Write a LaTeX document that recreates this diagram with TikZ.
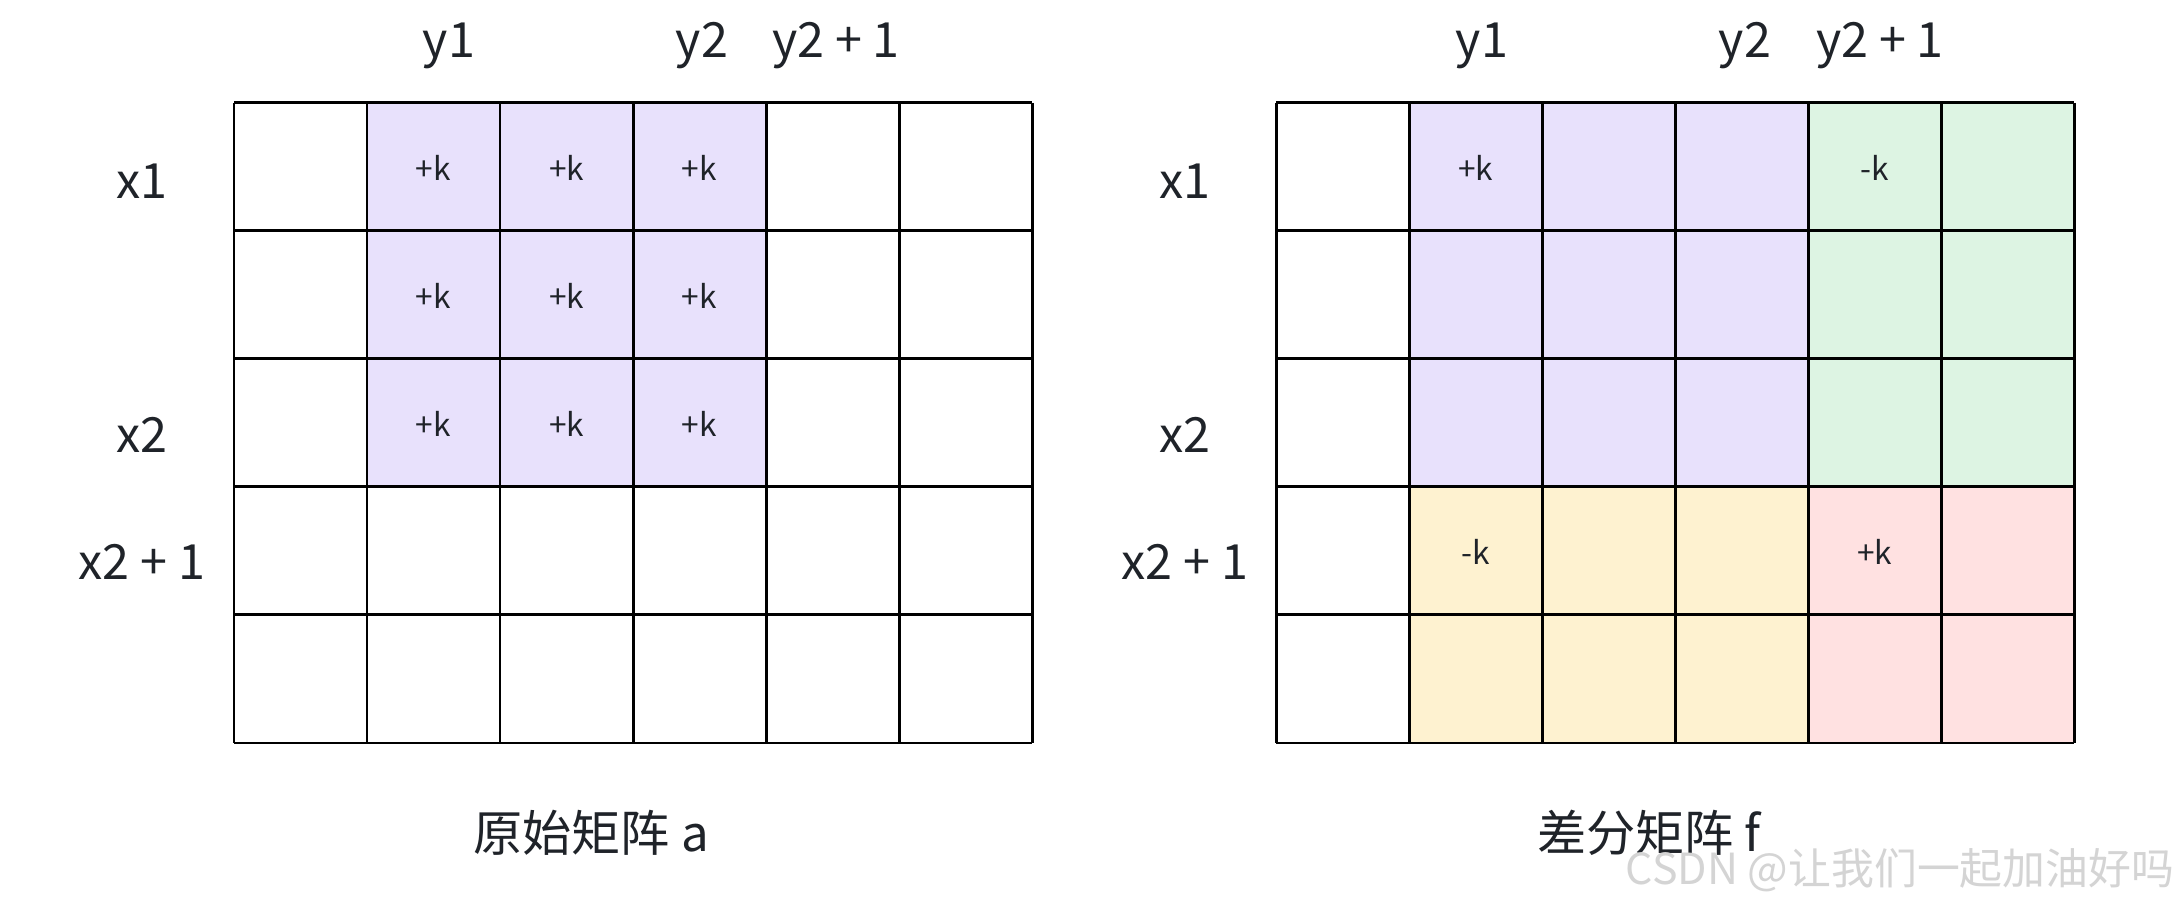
\documentclass[tikz,border=0pt]{standalone}
\usepackage{fontspec}
\setmainfont{Noto Sans CJK SC}
\usepackage{xcolor}
\usepackage{tikz}
\usetikzlibrary{positioning}

\definecolor{cellpurple}{HTML}{E8E1FC}
\definecolor{cellgreen}{HTML}{DDF4E3}
\definecolor{cellyellow}{HTML}{FEF2D0}
\definecolor{cellpink}{HTML}{FFE1E1}
\definecolor{inkdark}{HTML}{1F2329}
\definecolor{markgray}{HTML}{D4D4D4}

\begin{document}
\begin{tikzpicture}[
    x=0.1mm, y=-0.1mm,
    gridline/.style={draw=black, line width=0.85pt},
    axislabel/.style={anchor=base, text=inkdark, font=\fontsize{13.8}{17}\selectfont},
    celltext/.style={anchor=base, text=inkdark, font=\fontsize{9}{11}\selectfont},
    caption/.style={anchor=base, text=inkdark, font=\fontsize{14}{17}\selectfont},
    watermark/.style={anchor=base east, inner sep=0pt, text=markgray, font=\fontsize{12.2}{15}\selectfont}
]
\useasboundingbox[fill=white] (0,0) rectangle (2180,901);

% Original matrix a
\fill[cellpurple] (367,103) rectangle (766,487);
\foreach \i in {0,...,6} \draw[gridline] (234+133*\i,103) -- (234+133*\i,743);
\foreach \j in {0,...,5} \draw[gridline] (234,103+128*\j) -- (1032,103+128*\j);
\foreach \c in {1,2,3}
  \foreach \r in {0,1,2}
    \node[celltext] (a-\r-\c) at (234+133*\c+66.5,103+128*\r+78) {+k};

\node[axislabel] (a-y1) at (449,58) {y1};
\node[axislabel] (a-y2) at (702,58) {y2};
\node[axislabel] (a-y2p) at (836,58) {y2 + 1};
\node[axislabel] (a-x1) at (142,199) {x1};
\node[axislabel] (a-x2) at (142,453) {x2};
\node[axislabel] (a-x2p) at (142,580) {x2 + 1};
\node[caption] (a-title) at (591,852) {原始矩阵 a};

% Difference matrix f
\fill[cellpurple] (1409,103) rectangle (1808,487);
\fill[cellgreen] (1808,103) rectangle (2074,487);
\fill[cellyellow] (1409,487) rectangle (1808,743);
\fill[cellpink] (1808,487) rectangle (2074,743);
\foreach \i in {0,...,6} \draw[gridline] (1276+133*\i,103) -- (1276+133*\i,743);
\foreach \j in {0,...,5} \draw[gridline] (1276,103+128*\j) -- (2074,103+128*\j);
\node[celltext] (f-0-1) at (1475.5,181) {+k};
\node[celltext] (f-0-4) at (1874.5,181) {-k};
\node[celltext] (f-3-1) at (1475.5,565) {-k};
\node[celltext] (f-3-4) at (1874.5,565) {+k};

\node[axislabel] (f-y1) at (1482,58) {y1};
\node[axislabel] (f-y2) at (1745,58) {y2};
\node[axislabel] (f-y2p) at (1880,58) {y2 + 1};
\node[axislabel] (f-x1) at (1185,199) {x1};
\node[axislabel] (f-x2) at (1185,453) {x2};
\node[axislabel] (f-x2p) at (1185,580) {x2 + 1};
\node[caption] (f-title) at (1649,852) {差分矩阵 f};

\node[watermark] (mark) at (2175,885) {CSDN @让我们一起加油好吗};

\end{tikzpicture}
\end{document}
